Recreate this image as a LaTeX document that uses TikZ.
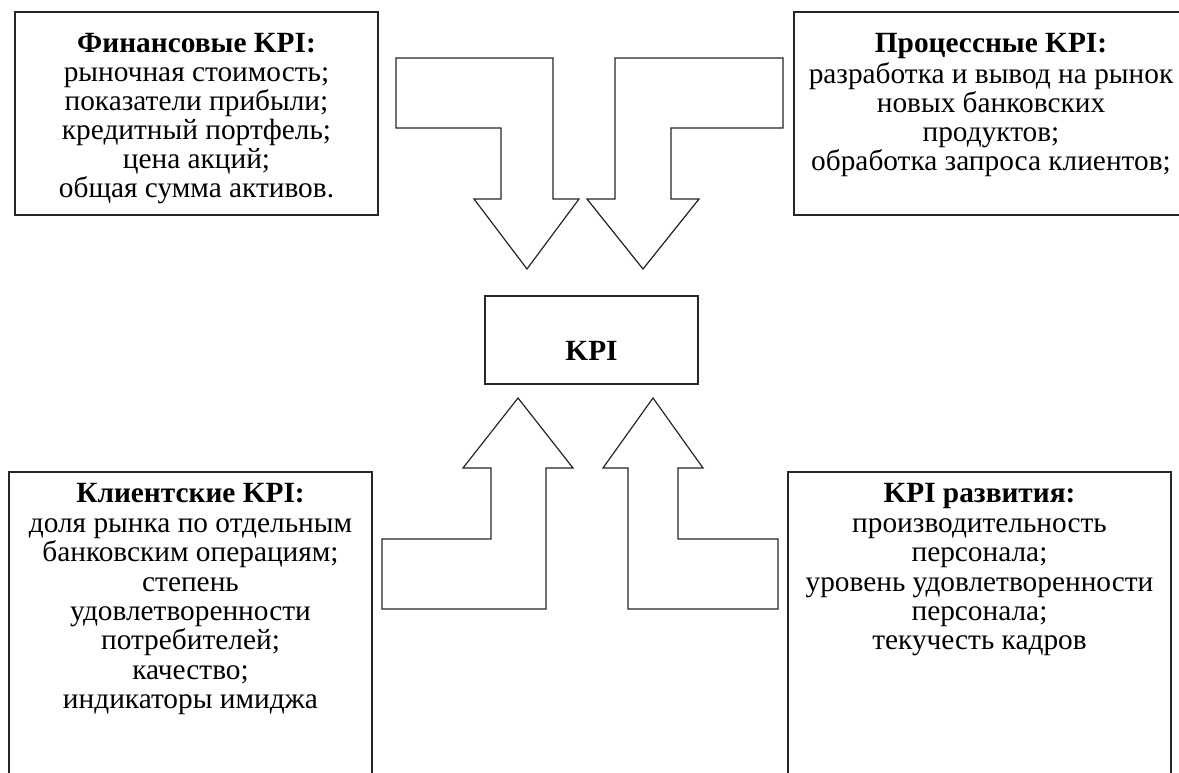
\documentclass[tikz,border=0pt]{standalone}
\usepackage{fontspec}
\setmainfont{Liberation Serif}
\usetikzlibrary{fit}
\tikzset{
  box/.style={draw=black!85, line width=0.9pt, inner sep=0pt, fill=none},
  txt/.style={align=center, inner sep=0pt, anchor=north,
    font=\fontsize{22}{22.05}\selectfont},
  txttop/.style={txt, font=\fontsize{22}{21.75}\selectfont},
  blockarrow/.style={draw=black!85, line width=0.9pt, line join=miter, fill=white},
}
\begin{document}
\begin{tikzpicture}[x=0.75pt,y=-0.75pt]
\useasboundingbox (0,0) rectangle (1179,773);
\clip (0,0) rectangle (1179,773);
\fill[white] (0,0) rectangle (1179,773);

% boxes
\node[box, fit={(15,12) (378,215)}] (fin) {};
\node[box, fit={(794,12) (1300,215)}] (proc) {};
\node[box, fit={(9,472) (372,850)}] (cli) {};
\node[box, fit={(788,472) (1171,850)}] (dev) {};
\node[box, fit={(485,296) (698,384)}] (kpi) {};

% texts
\node[txttop] (fint) at (196.5,32) {\strut\textbf{Финансовые KPI:}\\рыночная стоимость;\\показатели прибыли;\\кредитный портфель;\\цена акций;\\общая сумма активов.};
\node[txttop] (proct) at (991,32) {\strut\textbf{Процессные KPI:}\\разработка и вывод на рынок\\новых банковских\\продуктов;\\обработка запроса клиентов;};
\node[txt] (clit) at (190.5,482) {\strut\textbf{Клиентские KPI:}\\доля рынка по отдельным\\банковским операциям;\\степень\\удовлетворенности\\потребителей;\\качество;\\индикаторы имиджа};
\node[txt] (devt) at (979.5,482) {\strut\textbf{KPI развития:}\\производительность\\персонала;\\уровень удовлетворенности\\персонала;\\текучесть кадров};
\node[txt, anchor=base] (kpit) at (591.5,361) {\textbf{KPI}};

% block arrows (top, pointing down)
\draw[blockarrow] (396,58) -- (553,58) -- (553,199) -- (579,199) -- (527,269)
  -- (474,199) -- (501,199) -- (501,128) -- (396,128) -- cycle;
\draw[blockarrow] (615,58) -- (783,58) -- (783,128) -- (671,128) -- (671,199)
  -- (699,199) -- (643,269) -- (587,199) -- (615,199) -- cycle;
% block arrows (bottom, pointing up)
\draw[blockarrow] (518,398) -- (573,468) -- (546,468) -- (546,609) -- (382,609)
  -- (382,539) -- (491,539) -- (491,468) -- (463,468) -- cycle;
\draw[blockarrow] (653,398) -- (703,468) -- (678,468) -- (678,539) -- (778,539)
  -- (778,609) -- (628,609) -- (628,468) -- (603,468) -- cycle;
\end{tikzpicture}
\end{document}
